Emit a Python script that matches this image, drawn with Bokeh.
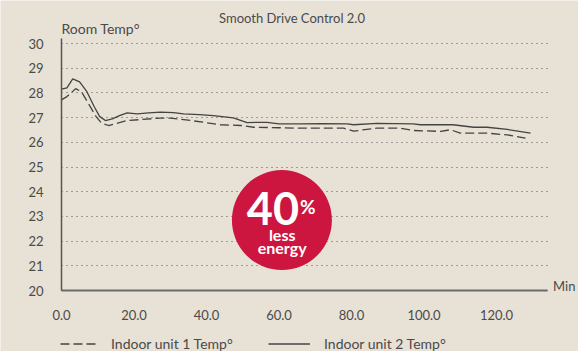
from bokeh.plotting import figure
from bokeh.models import Range1d, FixedTicker, Label, Legend, LegendItem
from bokeh.embed import file_html
from bokeh.resources import INLINE

# ---- data ----
unit2_min = [0, 1.5, 3.1, 5, 7, 9, 10.5, 12.1, 14, 16, 18.1, 20.9, 24, 27.3, 30.9,
             33.7, 38, 41.9, 47.4, 51.2, 56.7, 60, 66, 72, 78.8, 80.6, 87, 97, 99,
             108, 113.7, 117.4, 123, 129.4]
unit2_temp = [28.15, 28.2, 28.57, 28.45, 28.05, 27.45, 27.05, 26.88, 26.95, 27.08,
              27.19, 27.15, 27.19, 27.22, 27.2, 27.15, 27.12, 27.08, 26.99, 26.8,
              26.81, 26.75, 26.75, 26.76, 26.75, 26.71, 26.77, 26.75, 26.71, 26.71,
              26.61, 26.61, 26.52, 26.37]

unit1_min = [0, 1.5, 3.9, 5.5, 7.5, 9.5, 11, 13, 15.5, 18.1, 21.8, 27.3, 30, 33.7,
             40.2, 43.9, 49.4, 53, 60, 66, 77.8, 80.6, 83, 87, 93.5, 97, 104.6,
             107.3, 110, 117.4, 123, 128]
unit1_temp = [27.72, 27.85, 28.17, 28.05, 27.55, 27.05, 26.78, 26.68, 26.78, 26.88,
              26.92, 26.98, 26.98, 26.92, 26.79, 26.71, 26.68, 26.61, 26.59, 26.57,
              26.57, 26.45, 26.5, 26.57, 26.57, 26.48, 26.44, 26.51, 26.37, 26.37,
              26.30, 26.17]

x_ticks = [0, 20, 40, 60, 80, 100, 120]
x_tick_labels = ["0.0", "20.0", "40.0", "60.0", "80.0", "100.0", "120.0"]
y_ticks = [20, 21, 22, 23, 24, 25, 26, 27, 28, 29, 30]

series_names = ["Indoor unit 1 Temp°", "Indoor unit 2 Temp°"]
title_text = "Smooth Drive Control 2.0"
y_title = "Room Temp°"
x_title = "Min"
badge_value = "40"
badge_lines = ["less", "energy"]

# ---- style ----
BG = "#E8E1D5"
INK = "#4a4a4a"
RED = "#CC1640"
FONT = "Lato"

X_MIN, X_MAX = 0, 134.07       # axis extent (minutes)
Y_MIN, Y_MAX = 20, 30.2        # axis extent (deg)

p = figure(width=578, height=351, output_backend="svg", toolbar_location=None,
           x_range=Range1d(-16.828, 142.621), y_range=Range1d(17.5304, 31.7409),
           min_border=0, min_border_left=0, min_border_right=0,
           min_border_top=0, min_border_bottom=0,
           background_fill_color=BG, border_fill_color=BG,
           outline_line_color=None)

# axes drawn at fixed data locations inside the frame
p.xaxis.fixed_location = Y_MIN
p.yaxis.fixed_location = X_MIN
p.xaxis.bounds = (X_MIN, X_MAX)
p.yaxis.bounds = (Y_MIN, Y_MAX)
p.xaxis.ticker = FixedTicker(ticks=x_ticks)
p.xaxis.major_label_overrides = {t: l for t, l in zip(x_ticks, x_tick_labels)}
p.yaxis.ticker = FixedTicker(ticks=y_ticks)
for ax in (p.xaxis, p.yaxis):
    ax.major_tick_line_color = None
    ax.minor_tick_line_color = None
    ax.major_label_text_font = FONT
    ax.major_label_text_color = INK
    ax.major_label_text_font_size = "13px"
p.xaxis.axis_line_color = "#6a6a6a"
p.xaxis.axis_line_width = 2
p.yaxis.axis_line_color = "#555555"
p.yaxis.axis_line_width = 1.5
p.xaxis.major_label_standoff = 13
p.yaxis.major_label_standoff = 12

p.xgrid.grid_line_color = None
p.ygrid.grid_line_color = "#555555"
p.ygrid.grid_line_dash = "1 4"
p.ygrid.grid_line_width = 1
try:
    p.ygrid.cross_bounds = (X_MIN, X_MAX)
except Exception:
    p.ygrid.grid_line_color = None
    p.segment(x0=[X_MIN] * len(y_ticks), x1=[X_MAX] * len(y_ticks),
              y0=y_ticks, y1=y_ticks, line_color="#555555", line_dash="1 4",
              line_width=1)

r1 = p.line(unit1_min, unit1_temp, line_color="#444444", line_width=1.3,
            line_dash="9 4")
r2 = p.line(unit2_min, unit2_temp, line_color="#444444", line_width=1.3)


def lab(text, x, y, size, align="left", color=INK, bold=False):
    p.add_layout(Label(x=x, y=y, text=text, text_font=FONT,
                       text_font_size=size, text_color=color, text_align=align,
                       text_baseline="alphabetic", text_line_height=1.0,
                       text_font_style="bold" if bold else "normal"))


lab(title_text, 63.59, 31.049, "13px", align="center")
lab(y_title, 0, 30.615, "14px")
lab(x_title, 135.6, 20.178, "13px")

# badge
badge_x, badge_y = 60.8, 22.85
p.scatter([badge_x], [badge_y], size=100, fill_color=RED, line_color=None)
lab(badge_value, 65.52, 23.30, "45px", align="right", color="white", bold=True)
lab("%", 65.79, 23.417, "19px", color="white", bold=True)
lab(badge_lines[0], 60.88, 22.271, "16px", align="center", color="white", bold=True)
lab(badge_lines[1], 60.88, 21.733, "16px", align="center", color="white", bold=True)


def leg(name, r, x, glyph_w):
    lg = Legend(items=[LegendItem(label=name, renderers=[r])], location=(x, -1),
                orientation="horizontal", padding=0, margin=0,
                border_line_color=None, background_fill_alpha=0,
                glyph_width=glyph_w, glyph_height=15, label_standoff=14,
                label_text_font=FONT, label_text_font_size="14px",
                label_text_color=INK, label_height=15)
    p.add_layout(lg, "center")


leg(series_names[0], r1, 60, 37)
leg(series_names[1], r2, 268, 42)

open("out.html", "w").write(file_html(p, INLINE))
